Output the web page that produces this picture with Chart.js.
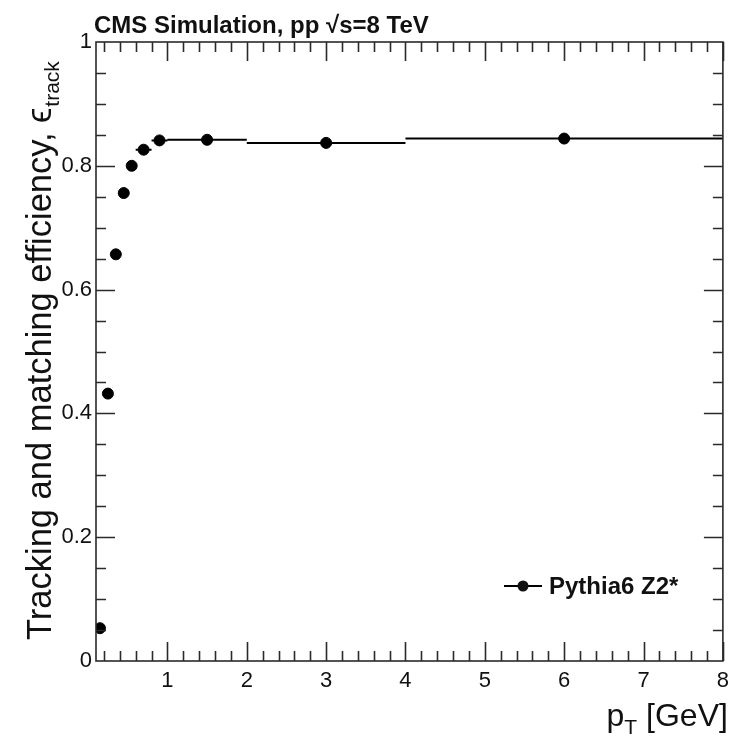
<!DOCTYPE html>
<html>
<head>
<meta charset="utf-8">
<script src="https://cdn.jsdelivr.net/npm/chart.js@4.4.0/dist/chart.umd.min.js"></script>
<style>
  html, body { margin: 0; padding: 0; background: #fff; }
  canvas { display: block; }
</style>
</head>
<body>
<canvas id="effChart" width="736" height="736"></canvas>
<script>
// pT bins (GeV) and tracking + matching efficiency in each bin
const binLow     = [0.1, 0.2, 0.3, 0.4, 0.5, 0.6, 0.8, 1.0, 2.0, 4.0];
const binHigh    = [0.2, 0.3, 0.4, 0.5, 0.6, 0.8, 1.0, 2.0, 4.0, 8.0];
const ptCenter   = [0.15, 0.25, 0.35, 0.45, 0.55, 0.7, 0.9, 1.5, 3.0, 6.0];
const efficiency = [0.053, 0.432, 0.657, 0.756, 0.800, 0.826, 0.841, 0.842, 0.837, 0.844];

const xTicks = [1, 2, 3, 4, 5, 6, 7, 8];
const yTicks = [0, 0.2, 0.4, 0.6, 0.8, 1];
const yTickLabels = ['0', '0.2', '0.4', '0.6', '0.8', '1'];

const FONT = '"Liberation Sans", Arial, Helvetica, sans-serif';
const AXIS_COLOR = '#2a2a2a';

Chart.defaults.font.family = FONT;
Chart.defaults.color = '#111';

// horizontal bars showing the pT bin width, drawn under the markers
const binWidthBars = {
  id: 'binWidthBars',
  beforeDatasetsDraw(chart) {
    const { ctx, scales: { x, y } } = chart;
    ctx.save();
    ctx.strokeStyle = '#000';
    ctx.lineWidth = 2;
    ctx.beginPath();
    binLow.forEach((lo, i) => {
      const py = y.getPixelForValue(efficiency[i]);
      ctx.moveTo(x.getPixelForValue(lo), py);
      ctx.lineTo(x.getPixelForValue(binHigh[i]), py);
    });
    ctx.stroke();
    ctx.restore();
  }
};

// ROOT style frame with inward ticks on all four sides
const rootFrame = {
  id: 'rootFrame',
  afterDraw(chart) {
    const { ctx, chartArea: a, scales: { x, y } } = chart;
    ctx.save();
    ctx.strokeStyle = AXIS_COLOR;
    ctx.lineWidth = 1.6;
    ctx.strokeRect(a.left, a.top, a.right - a.left, a.bottom - a.top);
    ctx.beginPath();
    for (let i = 1; i <= 40; i++) {
      const v = i * 0.2;
      if (v <= x.min) continue;
      const px = Math.round(x.getPixelForValue(v)) + 0.5;
      const len = i % 5 === 0 ? 19 : 10;
      ctx.moveTo(px, a.bottom); ctx.lineTo(px, a.bottom - len);
      ctx.moveTo(px, a.top); ctx.lineTo(px, a.top + len);
    }
    for (let i = 1; i < 20; i++) {
      const py = Math.round(y.getPixelForValue(i * 0.05)) + 0.5;
      const len = i % 4 === 0 ? 19 : 10;
      ctx.moveTo(a.left, py); ctx.lineTo(a.left + len, py);
      ctx.moveTo(a.right, py); ctx.lineTo(a.right - len, py);
    }
    ctx.stroke();
    ctx.restore();
  }
};

// title, axis titles with subscripts, and the legend entry
const textLayer = {
  id: 'textLayer',
  afterDraw(chart) {
    const { ctx, chartArea: a } = chart;
    ctx.save();
    ctx.fillStyle = '#111';
    ctx.textBaseline = 'alphabetic';

    ctx.font = 'bold 24px ' + FONT;
    ctx.textAlign = 'left';
    ctx.fillText('CMS Simulation, pp \u221As=8 TeV', 94, 33);

    // x title: p_T [GeV], right aligned to the frame
    const big = '32px ' + FONT, sub = '21px ' + FONT;
    ctx.font = big;
    const wp = ctx.measureText('p').width;
    const wRest = ctx.measureText(' [GeV]').width;
    ctx.font = sub;
    const wT = ctx.measureText('T').width;
    let sx = a.right + 5 - (wp + wT + wRest);
    const base = 726;
    ctx.font = big; ctx.fillText('p', sx, base); sx += wp;
    ctx.font = sub; ctx.fillText('T', sx, base + 8); sx += wT;
    ctx.font = big; ctx.fillText(' [GeV]', sx, base);

    // y title, rotated, with epsilon_track
    ctx.save();
    ctx.translate(51, 640);
    ctx.rotate(-Math.PI / 2);
    ctx.font = '34.5px ' + FONT;
    const main = 'Tracking and matching efficiency, \u03F5';
    ctx.fillText(main, 0, 0);
    const wm = ctx.measureText(main).width;
    ctx.font = '21px ' + FONT;
    ctx.fillText('track', wm + 1, 8);
    ctx.restore();

    // legend entry
    const ds = chart.data.datasets[0];
    const ly = 586;
    ctx.strokeStyle = '#000';
    ctx.lineWidth = 2;
    ctx.beginPath();
    ctx.moveTo(504, ly); ctx.lineTo(542, ly);
    ctx.stroke();
    ctx.beginPath();
    ctx.arc(523, ly, ds.pointRadius, 0, Math.PI * 2);
    ctx.fill();
    ctx.font = 'bold 24px ' + FONT;
    ctx.textBaseline = 'middle';
    ctx.fillText(ds.label, 549, ly + 1);
    ctx.restore();
  }
};

const ctx = document.getElementById('effChart').getContext('2d');
const effChart = new Chart(ctx, {
  type: 'scatter',
  data: {
    datasets: [{
      label: 'Pythia6 Z2*',
      data: ptCenter.map((pt, i) => ({ x: pt, y: efficiency[i] })),
      backgroundColor: '#000',
      borderColor: '#000',
      pointRadius: 5.5,
      pointHoverRadius: 5.5,
      showLine: false
    }]
  },
  options: {
    responsive: false,
    animation: false,
    layout: { padding: { top: 42, right: 9, left: 0, bottom: 0 } },
    plugins: {
      legend: { display: false },
      tooltip: { enabled: false }
    },
    scales: {
      x: {
        type: 'linear',
        min: 0.1,
        max: 8,
        grid: { display: false, drawTicks: false },
        border: { display: false },
        afterBuildTicks: (scale) => { scale.ticks = xTicks.map(v => ({ value: v })); },
        afterFit: (scale) => { scale.height = 75; },
        ticks: {
          padding: 7,
          font: { size: 22 },
          callback: (v) => String(v)
        }
      },
      y: {
        type: 'linear',
        min: 0,
        max: 1,
        grid: { display: false, drawTicks: false },
        border: { display: false },
        afterBuildTicks: (scale) => { scale.ticks = yTicks.map(v => ({ value: v })); },
        afterFit: (scale) => { scale.width = 96; },
        ticks: {
          padding: 4,
          font: { size: 22 },
          callback: (v, i) => yTickLabels[i]
        }
      }
    }
  },
  plugins: [binWidthBars, rootFrame, textLayer]
});
</script>
</body>
</html>
